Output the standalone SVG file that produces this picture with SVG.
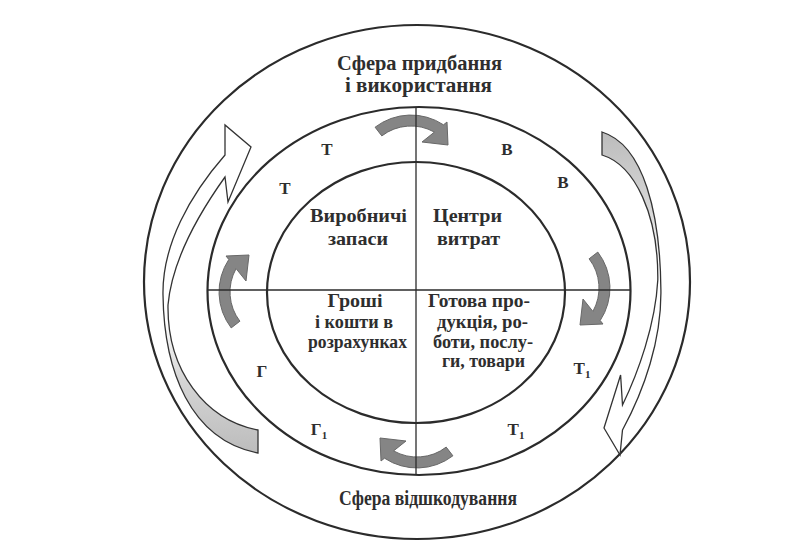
<svg xmlns="http://www.w3.org/2000/svg" width="804" height="544" viewBox="0 0 804 544">
<defs>
<style>
.ring{fill:none;stroke:#2b2b2b;stroke-width:2.2}
.axis{stroke:#2b2b2b;stroke-width:1.3;fill:none}
.ga{fill:#858585;stroke:#686868;stroke-width:1}
.big{stroke:#333333;stroke-width:1.3;stroke-linejoin:miter}
text{font-family:"Liberation Serif","Times New Roman",serif;font-weight:bold;fill:#2e2e2e;text-anchor:middle}
.t{font-size:20px}
.c{font-size:19.5px}
.l{font-size:17px}
.s{font-size:11px}
</style>
<path id="ca" d="M-35.9,-46.8 A59,59 0 0 1 32.5,-49.2 L36,-52 L37,-29 L11,-32 L23.4,-41.9 A48,48 0 0 0 -29.2,-38.1 Z"/>
<linearGradient id="gl" gradientUnits="userSpaceOnUse" x1="0" y1="320" x2="0" y2="450">
<stop offset="0" stop-color="#ffffff"/>
<stop offset="0.45" stop-color="#d6d6d6"/>
<stop offset="1" stop-color="#bdbdbd"/>
</linearGradient>
<linearGradient id="gr" gradientUnits="userSpaceOnUse" x1="0" y1="268" x2="0" y2="135">
<stop offset="0" stop-color="#ffffff"/>
<stop offset="0.45" stop-color="#d6d6d6"/>
<stop offset="1" stop-color="#bdbdbd"/>
</linearGradient>
</defs>
<rect width="804" height="544" fill="#ffffff"/>

<g id="rings">
<ellipse class="ring" cx="417" cy="282" rx="273" ry="257"/>
<ellipse class="ring" cx="419" cy="291" rx="211.5" ry="184"/>
<ellipse class="ring" cx="416" cy="292.5" rx="149" ry="130.5"/>
</g>

<g id="outer-arrows">
<path id="arrow-left" class="big" fill="url(#gl)" d="M258,453 C190,440 164,370 163,295 C162,245 190,195 225,155 L225,125 L251,147 L228,202 L225,177 C200,212 172,260 168,305 C167,370 205,420 258,430 Z"/>
<path id="arrow-right" class="big" fill="url(#gr)" d="M602,132 C644.2,145 660.3,215 660.9,290 C661.6,340 644.2,390 622.5,430 L620,455 L604,428 L620.6,375 L622.5,405 C638,373 655.4,325 657.8,280 C658.5,215 634.9,165 602,155 Z"/>
</g>

<g id="cycle-arrows">
<use class="ga" href="#ca" transform="translate(411,174)"/>
<use class="ga" href="#ca" transform="translate(551,288) rotate(90)"/>
<use class="ga" href="#ca" transform="translate(417,409) rotate(180)"/>
<use class="ga" href="#ca" transform="translate(278,292) rotate(270)"/>
</g>

<g id="connectors">
<line class="axis" x1="416" y1="107" x2="416" y2="475"/>
<line class="axis" x1="208" y1="290" x2="631" y2="290"/>
</g>

<g id="sphere-top">
<text class="t" x="419.5" y="70" textLength="165" lengthAdjust="spacingAndGlyphs">Сфера придбання</text>
<text class="t" x="418.5" y="92" textLength="147" lengthAdjust="spacingAndGlyphs">і використання</text>
</g>
<g id="sphere-bottom">
<text class="t" x="428" y="505" textLength="178" lengthAdjust="spacingAndGlyphs">Сфера відшкодування</text>
</g>

<g id="node-zapasy">
<text class="c" x="358.5" y="222" textLength="97" lengthAdjust="spacingAndGlyphs">Виробничі</text>
<text class="c" x="358" y="245" textLength="60" lengthAdjust="spacingAndGlyphs">запаси</text>
</g>
<g id="node-tsentry">
<text class="c" x="467.5" y="222" textLength="69" lengthAdjust="spacingAndGlyphs">Центри</text>
<text class="c" x="468.5" y="245" textLength="63" lengthAdjust="spacingAndGlyphs">витрат</text>
</g>
<g id="node-groshi">
<text class="c" x="355" y="307" textLength="55" lengthAdjust="spacingAndGlyphs">Гроші</text>
<text class="c" x="354" y="328" textLength="78" lengthAdjust="spacingAndGlyphs">і кошти в</text>
<text class="c" x="357.5" y="348" textLength="99" lengthAdjust="spacingAndGlyphs">розрахунках</text>
</g>
<g id="node-produktsiia">
<text class="c" x="479" y="307" textLength="102" lengthAdjust="spacingAndGlyphs">Готова про-</text>
<text class="c" x="482.5" y="328" textLength="91" lengthAdjust="spacingAndGlyphs">дукція, ро-</text>
<text class="c" x="483" y="348" textLength="100" lengthAdjust="spacingAndGlyphs">боти, послу-</text>
<text class="c" x="483.5" y="367" textLength="83" lengthAdjust="spacingAndGlyphs">ги, товари</text>
</g>

<g id="labels">
<text class="l" x="327" y="155">Т</text>
<text class="l" x="285" y="194">Т</text>
<text class="l" x="507" y="155">В</text>
<text class="l" x="563" y="188">В</text>
<text class="l" x="262" y="377">Г</text>
<text class="l" x="319" y="435">Г<tspan class="s" dy="4">1</tspan></text>
<text class="l" x="582" y="374">Т<tspan class="s" dy="4">1</tspan></text>
<text class="l" x="516" y="435">Т<tspan class="s" dy="4">1</tspan></text>
</g>
</svg>
